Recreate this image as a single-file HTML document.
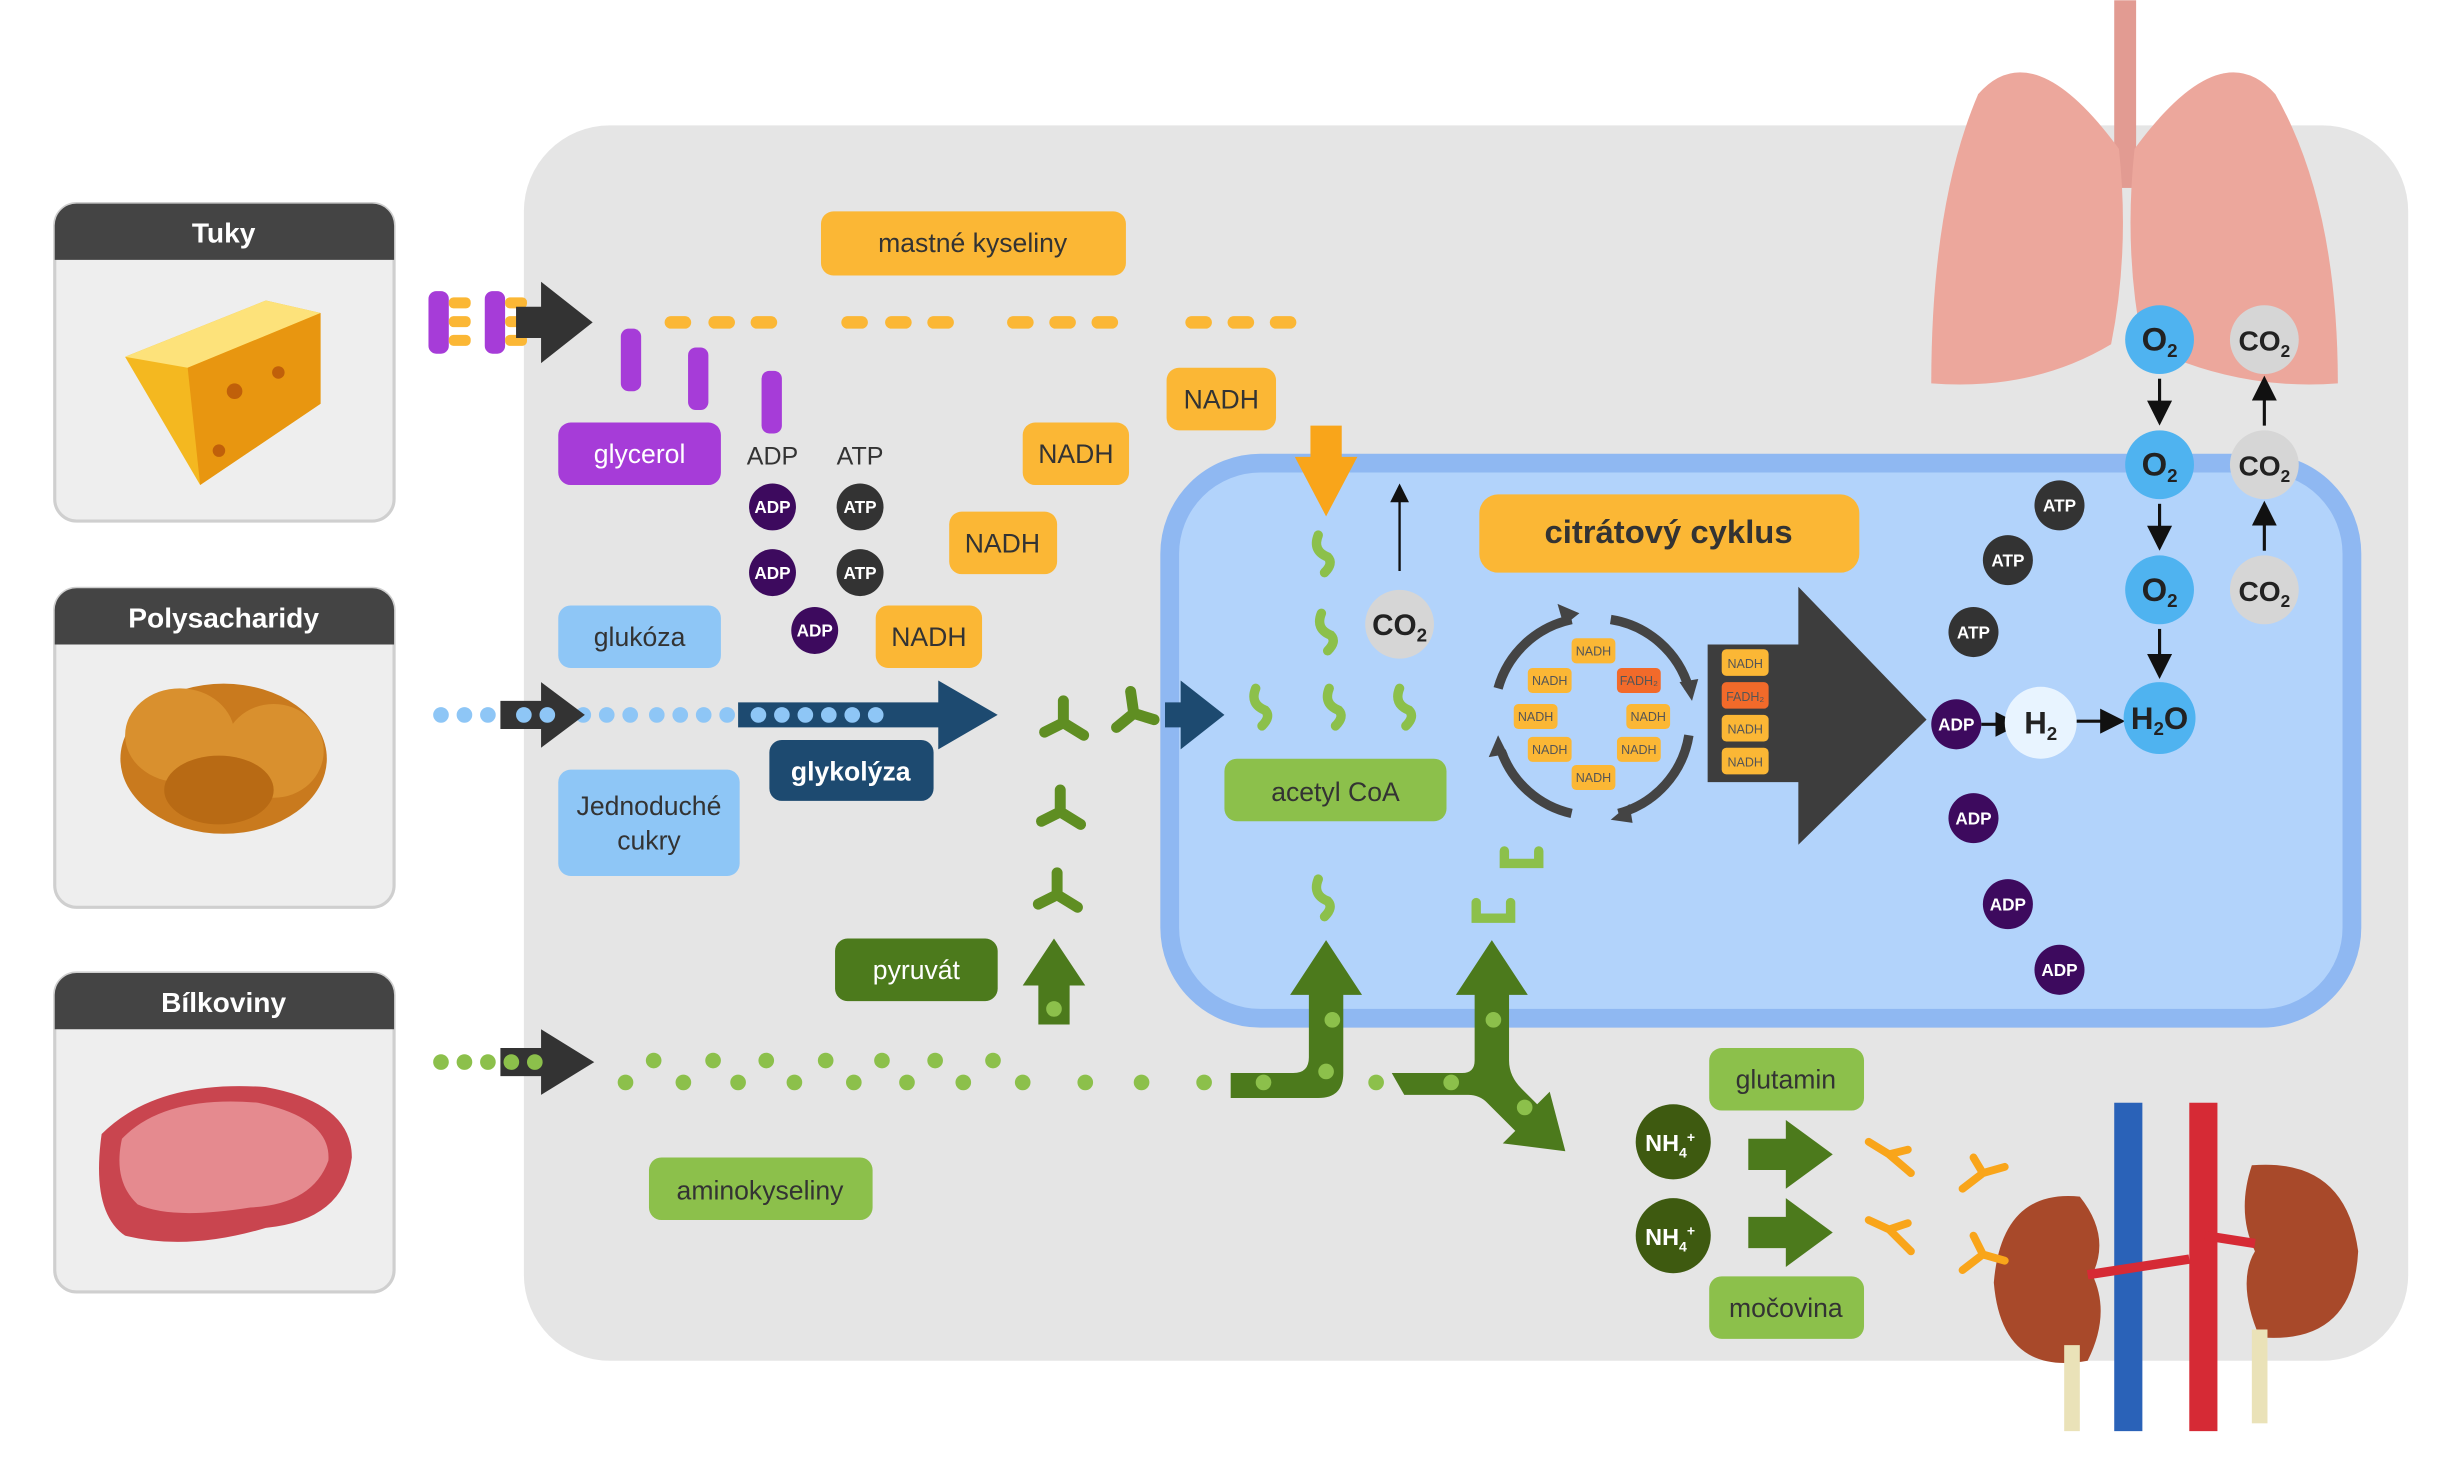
<!DOCTYPE html>
<html><head><meta charset="utf-8"><style>
html,body{margin:0;padding:0;background:#fff}
svg{display:block}
text{font-family:"Liberation Sans",sans-serif}
</style></head><body>
<svg width="2452" height="1458" viewBox="0 0 1568 932" xmlns="http://www.w3.org/2000/svg">
<defs>
<marker id="ah" markerWidth="8" markerHeight="8" refX="6" refY="4" orient="auto"><path d="M0,0 L8,4 L0,8z" fill="#111"/></marker>
</defs>
<rect width="1568" height="932" fill="#fff"/>
<!-- main gray -->
<rect x="335" y="80" width="1205" height="790" rx="55" fill="#e5e5e5"/>

<!-- left cards -->
<g>
<rect x="35" y="130" width="217" height="203" rx="14" fill="#eeeeee" stroke="#cfcfcf" stroke-width="2"/>
<path d="M35,144 a14,14 0 0 1 14,-14 h189 a14,14 0 0 1 14,14 v22 h-217z" fill="#444"/>
<text x="143" y="155" font-size="18" font-weight="bold" fill="#fff" text-anchor="middle">Tuky</text>
<path d="M80,228 L170,192 L205,200 L205,258 L128,310 Z" fill="#f4b820"/>
<path d="M80,228 L170,192 L205,200 L120,235 Z" fill="#fde27a"/>
<path d="M120,235 L205,200 L205,258 L128,310 Z" fill="#e89610"/>
<circle cx="150" cy="250" r="5" fill="#c0600a"/><circle cx="178" cy="238" r="4" fill="#c0600a"/><circle cx="140" cy="288" r="4" fill="#c0600a"/>

<rect x="35" y="376" width="217" height="204" rx="14" fill="#eeeeee" stroke="#cfcfcf" stroke-width="2"/>
<path d="M35,390 a14,14 0 0 1 14,-14 h189 a14,14 0 0 1 14,14 v22 h-217z" fill="#444"/>
<text x="143" y="401" font-size="18" font-weight="bold" fill="#fff" text-anchor="middle">Polysacharidy</text>
<ellipse cx="143" cy="485" rx="66" ry="48" fill="#c97a1e"/>
<ellipse cx="115" cy="470" rx="35" ry="30" fill="#d9902e"/>
<ellipse cx="175" cy="480" rx="32" ry="30" fill="#d9902e"/>
<ellipse cx="140" cy="505" rx="35" ry="22" fill="#b86a14"/>

<rect x="35" y="622" width="217" height="204" rx="14" fill="#eeeeee" stroke="#cfcfcf" stroke-width="2"/>
<path d="M35,636 a14,14 0 0 1 14,-14 h189 a14,14 0 0 1 14,14 v22 h-217z" fill="#444"/>
<text x="143" y="647" font-size="18" font-weight="bold" fill="#fff" text-anchor="middle">Bílkoviny</text>
<path d="M65,725 Q100,690 170,695 Q225,705 225,740 Q220,780 170,785 Q120,800 80,790 Q58,775 65,725Z" fill="#c9454f"/>
<path d="M78,728 Q105,700 165,705 Q212,715 210,742 Q200,770 160,772 Q110,780 88,770 Q72,755 78,728Z" fill="#e58a8f"/>
</g>

<!-- cell -->
<rect x="748" y="296" width="756" height="355" rx="58" fill="#b2d3fb" stroke="#8fb8f2" stroke-width="12"/>

<!-- lungs -->
<rect x="1352" y="0" width="14" height="120" fill="#e29b92"/>
<path d="M1355,95 Q1300,20 1265,60 Q1235,130 1235,245 Q1300,250 1350,220 Q1362,160 1355,95Z" fill="#eca79c"/>
<path d="M1365,95 Q1420,20 1455,60 Q1495,130 1495,245 Q1430,250 1370,220 Q1358,160 1365,95Z" fill="#eca79c"/>
<!-- kidneys -->
<rect x="1352" y="705" width="18" height="210" fill="#2a62b8"/>
<rect x="1400" y="705" width="18" height="210" fill="#d62a35"/>
<path d="M1330,765 Q1280,760 1275,820 Q1280,880 1335,870 Q1350,840 1338,815 Q1350,790 1330,765Z" fill="#a8492a"/>
<path d="M1440,745 Q1500,740 1508,800 Q1505,860 1445,855 Q1430,820 1442,800 Q1430,775 1440,745Z" fill="#a8492a"/>
<path d="M1335,815 L1400,805 M1442,795 L1410,790" stroke="#d62a35" stroke-width="6"/>
<rect x="1320" y="860" width="10" height="55" fill="#eae2b8"/><rect x="1440" y="850" width="10" height="60" fill="#eae2b8"/>

<!-- label boxes -->
<g font-size="17" text-anchor="middle">
<rect x="525" y="135" width="195" height="41" rx="8" fill="#fbb735"/><text x="622" y="161" fill="#333">mastné kyseliny</text>
<rect x="357" y="270" width="104" height="40" rx="8" fill="#a63cd8"/><text x="409" y="296" fill="#fff">glycerol</text>
<rect x="357" y="387" width="104" height="40" rx="8" fill="#8ec6f6"/><text x="409" y="413" fill="#333">glukóza</text>
<rect x="357" y="492" width="116" height="68" rx="8" fill="#8ec6f6"/><text x="415" y="521" fill="#333">Jednoduché</text><text x="415" y="543" fill="#333">cukry</text>
<rect x="492" y="473" width="105" height="39" rx="8" fill="#1d4a70"/><text x="544" y="499" fill="#fff" font-weight="bold">glykolýza</text>
<rect x="534" y="600" width="104" height="40" rx="8" fill="#4c7a1c"/><text x="586" y="626" fill="#fff">pyruvát</text>
<rect x="415" y="740" width="143" height="40" rx="8" fill="#8cc04b"/><text x="486" y="767" fill="#333">aminokyseliny</text>
<rect x="783" y="485" width="142" height="40" rx="8" fill="#8cc04b"/><text x="854" y="512" fill="#333">acetyl CoA</text>
<rect x="946" y="316" width="243" height="50" rx="12" fill="#fbb735"/><text x="1067" y="347" fill="#333" font-weight="bold" font-size="21">citrátový cyklus</text>
<rect x="1093" y="670" width="99" height="40" rx="8" fill="#8cc04b"/><text x="1142" y="696" fill="#333">glutamin</text>
<rect x="1093" y="816" width="99" height="40" rx="8" fill="#8cc04b"/><text x="1142" y="842" fill="#333">močovina</text>
<rect x="746" y="235" width="70" height="40" rx="8" fill="#fbb735"/><text x="781" y="261" fill="#333">NADH</text>
<rect x="654" y="270" width="68" height="40" rx="8" fill="#fbb735"/><text x="688" y="296" fill="#333">NADH</text>
<rect x="607" y="327" width="69" height="40" rx="8" fill="#fbb735"/><text x="641" y="353" fill="#333">NADH</text>
<rect x="560" y="387" width="68" height="40" rx="8" fill="#fbb735"/><text x="594" y="413" fill="#333">NADH</text>
</g>

<!-- fats input -->
<g>
<rect x="274" y="186" width="13" height="40" rx="5" fill="#a63cd8"/><rect x="310" y="186" width="13" height="40" rx="5" fill="#a63cd8"/>
<g fill="#fbb735"><rect x="287" y="190" width="14" height="7" rx="3"/><rect x="287" y="202" width="14" height="7" rx="3"/><rect x="287" y="214" width="14" height="7" rx="3"/>
<rect x="323" y="190" width="14" height="7" rx="3"/><rect x="323" y="202" width="14" height="7" rx="3"/><rect x="323" y="214" width="14" height="7" rx="3"/></g>
<path d="M330,196 h16 v-16 l33,26 l-33,26 v-16 h-16z" fill="#333"/>
<g fill="#fbb735">
<rect x="425" y="202" width="17" height="8" rx="4"/><rect x="453" y="202" width="17" height="8" rx="4"/><rect x="480" y="202" width="17" height="8" rx="4"/>
<rect x="538" y="202" width="17" height="8" rx="4"/><rect x="566" y="202" width="17" height="8" rx="4"/><rect x="593" y="202" width="17" height="8" rx="4"/>
<rect x="644" y="202" width="17" height="8" rx="4"/><rect x="671" y="202" width="17" height="8" rx="4"/><rect x="698" y="202" width="17" height="8" rx="4"/>
<rect x="758" y="202" width="17" height="8" rx="4"/><rect x="785" y="202" width="17" height="8" rx="4"/><rect x="812" y="202" width="17" height="8" rx="4"/>
</g>
<g fill="#a63cd8"><rect x="397" y="210" width="13" height="40" rx="5"/><rect x="440" y="222" width="13" height="40" rx="5"/><rect x="487" y="237" width="13" height="40" rx="5"/></g>
</g>

<!-- ADP/ATP -->
<g font-size="11" font-weight="bold" fill="#fff" text-anchor="middle">
<text x="494" y="297" font-size="16" font-weight="normal" fill="#333">ADP</text>
<text x="550" y="297" font-size="16" font-weight="normal" fill="#333">ATP</text>
<circle cx="494" cy="324" r="15" fill="#3d0a5e"/><text x="494" y="328">ADP</text>
<circle cx="550" cy="324" r="15" fill="#333"/><text x="550" y="328">ATP</text>
<circle cx="494" cy="366" r="15" fill="#3d0a5e"/><text x="494" y="370">ADP</text>
<circle cx="550" cy="366" r="15" fill="#333"/><text x="550" y="370">ATP</text>
<circle cx="521" cy="403" r="15" fill="#3d0a5e"/><text x="521" y="407">ADP</text>
<circle cx="1317" cy="323" r="16" fill="#333"/><text x="1317" y="327">ATP</text>
<circle cx="1284" cy="358" r="16" fill="#333"/><text x="1284" y="362">ATP</text>
<circle cx="1262" cy="404" r="16" fill="#333"/><text x="1262" y="408">ATP</text>
<circle cx="1251" cy="463" r="16" fill="#3d0a5e"/><text x="1251" y="467">ADP</text>
<circle cx="1262" cy="523" r="16" fill="#3d0a5e"/><text x="1262" y="527">ADP</text>
<circle cx="1284" cy="578" r="16" fill="#3d0a5e"/><text x="1284" y="582">ADP</text>
<circle cx="1317" cy="620" r="16" fill="#3d0a5e"/><text x="1317" y="624">ADP</text>
</g>

<!-- glucose chain -->
<g>
<g fill="#8ec6f6">
<circle cx="282" cy="457" r="5"/><circle cx="297" cy="457" r="5"/><circle cx="312" cy="457" r="5"/>
<circle cx="373" cy="457" r="5"/><circle cx="388" cy="457" r="5"/><circle cx="403" cy="457" r="5"/><circle cx="420" cy="457" r="5"/><circle cx="435" cy="457" r="5"/><circle cx="450" cy="457" r="5"/><circle cx="465" cy="457" r="5"/>
</g>
<path d="M320,448 h26 v-12 l28,21 l-28,21 v-12 h-26z" fill="#333"/>
<path d="M472,449 h128 v-14 l38,22 l-38,22 v-14 h-128z" fill="#1d4a70"/>
<g fill="#8ec6f6"><circle cx="485" cy="457" r="5"/><circle cx="500" cy="457" r="5"/><circle cx="515" cy="457" r="5"/><circle cx="530" cy="457" r="5"/><circle cx="545" cy="457" r="5"/><circle cx="560" cy="457" r="5"/><circle cx="335" cy="457" r="5"/><circle cx="350" cy="457" r="5"/></g>
<path d="M745,449 h10 v-14 l28,22 l-28,22 v-14 h-10z" fill="#1d4a70"/>
</g>

<!-- pyruvate Y shapes -->
<g stroke="#5f8e22" stroke-width="7" stroke-linecap="round" fill="none">
<path d="M680,448 L680,462 M668,468 L680,462 L693,470"/>
<path d="M678,505 L678,519 M666,525 L678,519 L691,527"/>
<path d="M676,558 L676,572 M664,578 L676,572 L689,580"/>
<path d="M723,442 L725,456 M714,465 L725,456 L738,460"/>
</g>
<path d="M664,655 v-25 h-10 l20,-30 l20,30 h-10 v25z" fill="#4c7a1c"/>
<circle cx="674" cy="645" r="5" fill="#8cc04b"/>

<!-- acetyl CoA hooks -->
<g stroke="#8cc04b" stroke-width="6" stroke-linecap="round" fill="none">
<path d="M843,342 q-4,10 6,14 q4,4 -2,10"/>
<path d="M845,392 q-4,10 6,14 q4,4 -2,10"/>
<path d="M803,440 q-4,10 6,14 q4,4 -2,10"/>
<path d="M850,440 q-4,10 6,14 q4,4 -2,10"/>
<path d="M895,440 q-4,10 6,14 q4,4 -2,10"/>
<path d="M843,562 q-4,10 6,14 q4,4 -2,10"/>
<path d="M962,544 v8 h22 v-8"/>
<path d="M944,577 v10 h22 v-10"/>
</g>
<path d="M838,272 h20 v20 h10 l-20,38 l-20,-38 h10z" fill="#f9a51a"/>
<line x1="895" y1="365" x2="895" y2="312" stroke="#111" stroke-width="1.5" marker-end="url(#ah)"/>
<circle cx="895" cy="399" r="22" fill="#d6d6d6"/>
<text x="895" y="406" font-size="19" font-weight="bold" fill="#222" text-anchor="middle">CO<tspan font-size="12" dy="4">2</tspan></text>

<!-- amino acids -->
<g fill="#8cc04b">
<circle cx="282" cy="679" r="5"/><circle cx="297" cy="679" r="5"/><circle cx="312" cy="679" r="5"/>
<circle cx="400" cy="692" r="5"/><circle cx="418" cy="678" r="5"/><circle cx="437" cy="692" r="5"/><circle cx="456" cy="678" r="5"/><circle cx="472" cy="692" r="5"/><circle cx="490" cy="678" r="5"/><circle cx="508" cy="692" r="5"/><circle cx="528" cy="678" r="5"/><circle cx="546" cy="692" r="5"/><circle cx="564" cy="678" r="5"/><circle cx="580" cy="692" r="5"/><circle cx="598" cy="678" r="5"/><circle cx="616" cy="692" r="5"/><circle cx="635" cy="678" r="5"/><circle cx="654" cy="692" r="5"/><circle cx="694" cy="692" r="5"/><circle cx="730" cy="692" r="5"/><circle cx="770" cy="692" r="5"/><circle cx="880" cy="692" r="5"/>
</g>
<path d="M320,670 h26 v-12 l34,21 l-34,21 v-12 h-26z" fill="#333"/>
<g fill="#8cc04b"><circle cx="327" cy="679" r="5"/><circle cx="342" cy="679" r="5"/></g>
<path d="M787,686 h40 q10,0 10,-10 v-40 h-12 l23,-35 l23,35 h-12 v50 q0,16 -16,16 h-56z" fill="#4c7a1c"/>
<path d="M890,686 h45 q8,0 8,-8 v-42 h-12 l23,-35 l23,35 h-12 v42 q0,10 8,18 l10,10 l8,-8 l10,38 l-40,-5 l8,-8 l-18,-18 q-5,-5 -12,-5 h-41z" fill="#4c7a1c"/>
<g fill="#8cc04b"><circle cx="808" cy="692" r="5"/><circle cx="848" cy="685" r="5"/><circle cx="852" cy="652" r="5"/><circle cx="928" cy="692" r="5"/><circle cx="955" cy="652" r="5"/><circle cx="975" cy="708" r="5"/></g>

<!-- NH4 -->
<g font-size="15" font-weight="bold" fill="#fff" text-anchor="middle">
<circle cx="1070" cy="730" r="24" fill="#3e5a10"/><text x="1068" y="736">NH<tspan font-size="9" dy="4">4</tspan><tspan font-size="9" dy="-10">+</tspan></text>
<circle cx="1070" cy="790" r="24" fill="#3e5a10"/><text x="1068" y="796">NH<tspan font-size="9" dy="4">4</tspan><tspan font-size="9" dy="-10">+</tspan></text>
</g>
<path d="M1118,728 h24 v-12 l30,22 l-30,22 v-12 h-24z" fill="#4c7a1c"/>
<path d="M1118,778 h24 v-12 l30,22 l-30,22 v-12 h-24z" fill="#4c7a1c"/>
<g stroke="#f9a51a" stroke-width="5" stroke-linecap="round" fill="none">
<path d="M1220,735 L1208,738 M1195,730 L1208,738 L1222,750"/>
<path d="M1262,740 L1268,750 M1255,760 L1268,750 L1282,746"/>
<path d="M1220,782 L1208,786 M1195,780 L1208,786 L1222,800"/>
<path d="M1262,790 L1268,802 M1255,812 L1268,802 L1282,806"/>
</g>

<!-- citrate cycle -->
<g stroke="#444" stroke-width="6" fill="none">
<path d="M958,440 A62,62 0 0 1 1005,396"/>
<path d="M1030,396 A62,62 0 0 1 1080,440"/>
<path d="M1080,470 A62,62 0 0 1 1035,520"/>
<path d="M1005,520 A62,62 0 0 1 960,480"/>
</g>
<g fill="#444"><path d="M1010,392 l-14,-6 l4,14z"/><path d="M1082,448 l-8,-12 l12,-2z"/><path d="M1030,524 l12,-10 l2,12z"/><path d="M958,470 l-6,14 l12,-2z"/></g>
<g font-size="8" fill="#555" text-anchor="middle">
<rect x="1005" y="408" width="28" height="16" rx="3" fill="#fbb735"/><text x="1019" y="419">NADH</text>
<rect x="977" y="427" width="28" height="16" rx="3" fill="#fbb735"/><text x="991" y="438">NADH</text>
<rect x="1034" y="427" width="28" height="16" rx="3" fill="#f26a2a"/><text x="1048" y="438">FADH₂</text>
<rect x="968" y="450" width="28" height="16" rx="3" fill="#fbb735"/><text x="982" y="461">NADH</text>
<rect x="1040" y="450" width="28" height="16" rx="3" fill="#fbb735"/><text x="1054" y="461">NADH</text>
<rect x="977" y="471" width="28" height="16" rx="3" fill="#fbb735"/><text x="991" y="482">NADH</text>
<rect x="1034" y="471" width="28" height="16" rx="3" fill="#fbb735"/><text x="1048" y="482">NADH</text>
<rect x="1005" y="489" width="28" height="16" rx="3" fill="#fbb735"/><text x="1019" y="500">NADH</text>
</g>
<path d="M1092,412 h58 v-37 l82,85 l-82,80 v-40 h-58z" fill="#3d3d3d"/>
<g font-size="8" fill="#555" text-anchor="middle">
<rect x="1101" y="415" width="30" height="17" rx="3" fill="#fbb735"/><text x="1116" y="427">NADH</text>
<rect x="1101" y="436" width="30" height="17" rx="3" fill="#f26a2a"/><text x="1116" y="448">FADH₂</text>
<rect x="1101" y="457" width="30" height="17" rx="3" fill="#fbb735"/><text x="1116" y="469">NADH</text>
<rect x="1101" y="478" width="30" height="17" rx="3" fill="#fbb735"/><text x="1116" y="490">NADH</text>
</g>

<!-- O2 / CO2 / H2 -->
<g font-weight="bold" text-anchor="middle">
<line x1="1267" y1="463" x2="1288" y2="463" stroke="#111" stroke-width="2" marker-end="url(#ah)"/>
<circle cx="1305" cy="462" r="23" fill="#e8f4ff"/><text x="1305" y="469" font-size="20" fill="#222">H<tspan font-size="12" dy="4">2</tspan></text>
<line x1="1328" y1="461" x2="1355" y2="461" stroke="#111" stroke-width="2" marker-end="url(#ah)"/>
<circle cx="1381" cy="459" r="23" fill="#4fb3f0"/><text x="1381" y="466" font-size="20" fill="#222">H<tspan font-size="12" dy="4">2</tspan><tspan dy="-4">O</tspan></text>
<circle cx="1381" cy="217" r="22" fill="#4fb3f0"/><text x="1381" y="224" font-size="21" fill="#222">O<tspan font-size="12" dy="4">2</tspan></text>
<circle cx="1381" cy="297" r="22" fill="#4fb3f0"/><text x="1381" y="304" font-size="21" fill="#222">O<tspan font-size="12" dy="4">2</tspan></text>
<circle cx="1381" cy="377" r="22" fill="#4fb3f0"/><text x="1381" y="384" font-size="21" fill="#222">O<tspan font-size="12" dy="4">2</tspan></text>
<circle cx="1448" cy="217" r="22" fill="#d6d6d6"/><text x="1448" y="224" font-size="18" fill="#222">CO<tspan font-size="11" dy="4">2</tspan></text>
<circle cx="1448" cy="297" r="22" fill="#d6d6d6"/><text x="1448" y="304" font-size="18" fill="#222">CO<tspan font-size="11" dy="4">2</tspan></text>
<circle cx="1448" cy="377" r="22" fill="#d6d6d6"/><text x="1448" y="384" font-size="18" fill="#222">CO<tspan font-size="11" dy="4">2</tspan></text>
</g>
<g stroke="#111" stroke-width="2" marker-end="url(#ah)">
<line x1="1381" y1="242" x2="1381" y2="268"/><line x1="1381" y1="322" x2="1381" y2="348"/><line x1="1381" y1="402" x2="1381" y2="430"/>
<line x1="1448" y1="272" x2="1448" y2="244"/><line x1="1448" y1="352" x2="1448" y2="324"/>
</g>
</svg>
</body></html>
